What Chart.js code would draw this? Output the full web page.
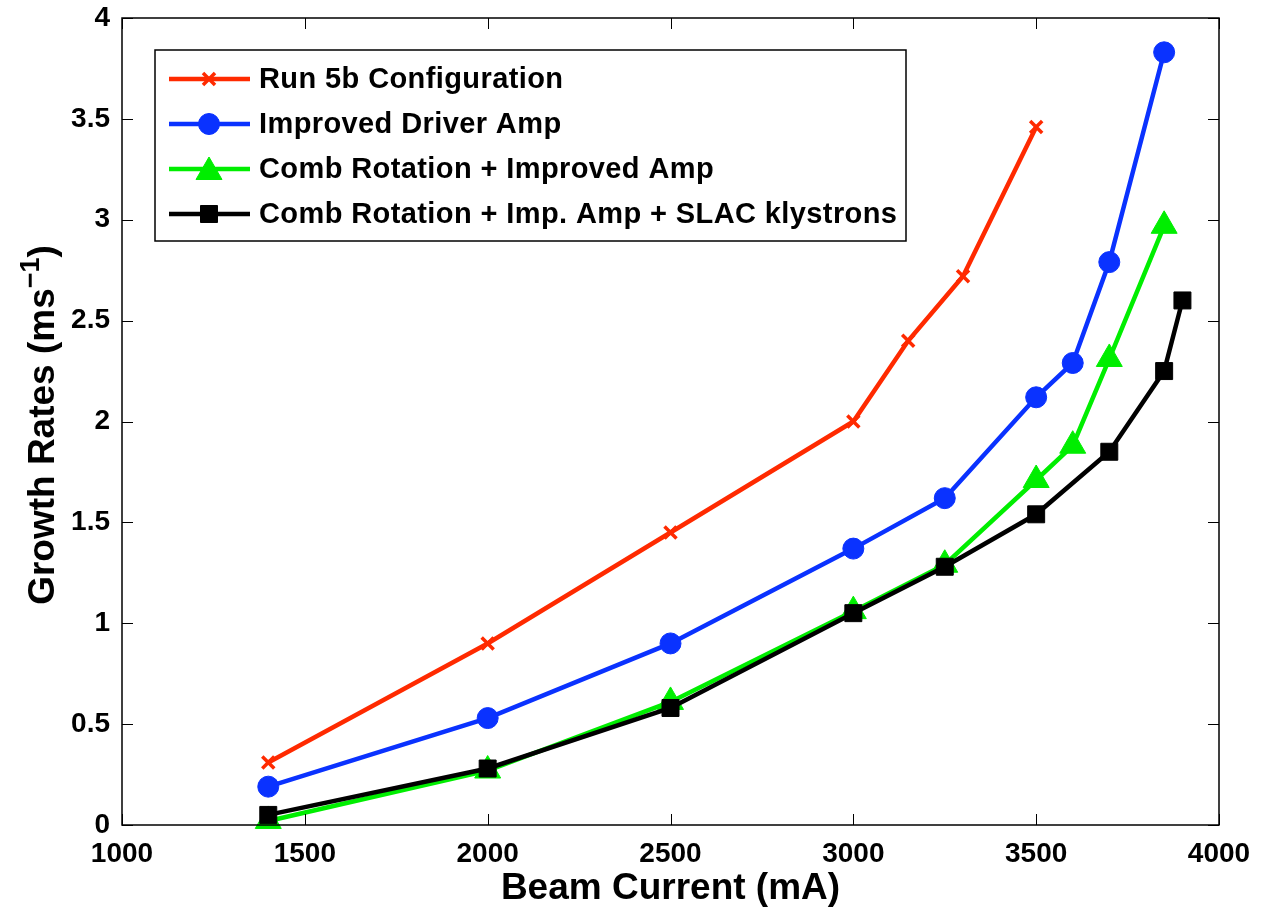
<!DOCTYPE html>
<html>
<head>
<meta charset="utf-8">
<script src="https://cdn.jsdelivr.net/npm/chart.js@4"></script>
<style>
  html, body { margin: 0; padding: 0; background: #fff; }
  #wrap { width: 1266px; height: 915px; }
</style>
</head>
<body>
<div id="wrap"><canvas id="grafico"></canvas></div>
<script>
// beam current (mA) and growth rates (1/ms) per configuration
const run5bX = [1400, 2000, 2500, 3000, 3150, 3300, 3500];
const run5bY = [0.31, 0.90, 1.45, 2.00, 2.40, 2.72, 3.46];

const driverX = [1400, 2000, 2500, 3000, 3250, 3500, 3600, 3700, 3850];
const driverY = [0.19, 0.53, 0.90, 1.37, 1.62, 2.12, 2.29, 2.79, 3.83];

const combX = [1400, 2000, 2500, 3000, 3250, 3500, 3600, 3700, 3850];
const combY = [0.02, 0.27, 0.61, 1.06, 1.29, 1.71, 1.88, 2.31, 2.97];

const slacX = [1400, 2000, 2500, 3000, 3250, 3500, 3700, 3850, 3900];
const slacY = [0.05, 0.28, 0.58, 1.05, 1.28, 1.54, 1.85, 2.25, 2.60];

const xTicks = [1000, 1500, 2000, 2500, 3000, 3500, 4000];
const yTicks = [0, 0.5, 1, 1.5, 2, 2.5, 3, 3.5, 4];

const FONTE = "'Liberation Sans', Arial, sans-serif";

function pontos(xs, ys) {
    return xs.map((x, i) => ({ x: x, y: ys[i] }));
}

// later series are drawn on top (lower order = on top)
function serie(label, xs, ys, cor, estilo, raio, ordem) {
    return {
        label: label,
        data: pontos(xs, ys),
        order: ordem,
        borderColor: cor,
        backgroundColor: cor,
        borderWidth: 4.5,
        pointStyle: estilo,
        pointRadius: raio,
        pointHoverRadius: raio,
        pointBorderColor: cor,
        pointBackgroundColor: cor,
        pointBorderWidth: estilo === 'crossRot' ? 3.5 : 1,
        tension: 0,
        clip: false
    };
}

// box with inward ticks on all four sides
const caixa = {
    id: 'caixa',
    afterDatasetsDraw(chart) {
        const ctx = chart.ctx;
        const a = chart.chartArea;
        const sx = chart.scales.x, sy = chart.scales.y;
        ctx.save();
        ctx.strokeStyle = '#000';
        ctx.lineWidth = 1.5;
        ctx.strokeRect(a.left, a.top, a.right - a.left, a.bottom - a.top);
        ctx.lineWidth = 1;
        ctx.beginPath();
        xTicks.forEach(v => {
            const p = Math.round(sx.getPixelForValue(v)) + 0.5;
            ctx.moveTo(p, a.bottom); ctx.lineTo(p, a.bottom - 11);
            ctx.moveTo(p, a.top); ctx.lineTo(p, a.top + 11);
        });
        yTicks.forEach(v => {
            const p = Math.round(sy.getPixelForValue(v)) + 0.5;
            ctx.moveTo(a.left, p); ctx.lineTo(a.left + 11, p);
            ctx.moveTo(a.right, p); ctx.lineTo(a.right - 11, p);
        });
        ctx.stroke();
        ctx.restore();
    }
};

// y axis title with a raised exponent
const tituloY = {
    id: 'tituloY',
    afterDraw(chart) {
        const ctx = chart.ctx;
        const base = 'Growth Rates (ms';
        const expoente = '\u22121';
        const fim = ')';
        ctx.save();
        ctx.fillStyle = '#000';
        ctx.textBaseline = 'alphabetic';
        ctx.textAlign = 'left';
        ctx.font = 'bold 37px ' + FONTE;
        const w1 = ctx.measureText(base).width;
        const w3 = ctx.measureText(fim).width;
        ctx.font = 'bold 27px ' + FONTE;
        const w2 = ctx.measureText(expoente).width;
        const total = w1 + w2 + w3;
        ctx.translate(54, 425);
        ctx.rotate(-Math.PI / 2);
        let x = -total / 2;
        ctx.font = 'bold 37px ' + FONTE;
        ctx.fillText(base, x, 0);
        x += w1;
        ctx.font = 'bold 27px ' + FONTE;
        ctx.fillText(expoente, x, -15);
        x += w2;
        ctx.font = 'bold 37px ' + FONTE;
        ctx.fillText(fim, x, 0);
        ctx.restore();
    }
};

// legend box in the upper left corner, line with marker in the middle
const legenda = {
    id: 'legenda',
    afterDraw(chart) {
        const ctx = chart.ctx;
        const bx = 155, by = 50, bw = 751, bh = 191;
        ctx.save();
        ctx.fillStyle = '#fff';
        ctx.fillRect(bx, by, bw, bh);
        ctx.strokeStyle = '#000';
        ctx.lineWidth = 1.5;
        ctx.strokeRect(bx, by, bw, bh);
        chart.data.datasets.forEach((ds, i) => {
            const y = 79 + i * 45;
            ctx.strokeStyle = ds.borderColor;
            ctx.lineWidth = 4.5;
            ctx.beginPath();
            ctx.moveTo(169, y);
            ctx.lineTo(250, y);
            ctx.stroke();
            ctx.fillStyle = ds.pointBackgroundColor;
            ctx.strokeStyle = ds.pointBorderColor;
            ctx.lineWidth = ds.pointBorderWidth;
            Chart.helpers.drawPoint(ctx, {
                pointStyle: ds.pointStyle,
                rotation: 0,
                radius: ds.pointRadius,
                borderWidth: ds.pointBorderWidth
            }, 209, y + (ds.pointStyle === 'triangle' ? 3 : 0));
            ctx.fillStyle = '#000';
            ctx.font = 'bold 29px ' + FONTE;
            ctx.textBaseline = 'middle';
            ctx.textAlign = 'left';
            if ('letterSpacing' in ctx) ctx.letterSpacing = '0.4px';
            ctx.fillText(ds.label, 259, y + 1);
        });
        ctx.restore();
    }
};

const ctx = document.getElementById('grafico').getContext('2d');

window.graficoCrescimento = new Chart(ctx, {
    type: 'line',
    data: {
        datasets: [
            serie('Run 5b Configuration', run5bX, run5bY, '#ff2a00', 'crossRot', 8.5, 4),
            serie('Improved Driver Amp', driverX, driverY, '#0a32ff', 'circle', 10.5, 3),
            serie('Comb Rotation + Improved Amp', combX, combY, '#00ee00', 'triangle', 15, 2),
            serie('Comb Rotation + Imp. Amp + SLAC klystrons', slacX, slacY, '#000000', 'rect', 12, 1)
        ]
    },
    options: {
        responsive: true,
        maintainAspectRatio: false,
        animation: false,
        events: [],
        layout: { padding: { left: 0, right: 47, top: 18, bottom: 0 } },
        plugins: {
            legend: { display: false },
            tooltip: { enabled: false }
        },
        scales: {
            x: {
                type: 'linear',
                min: 1000,
                max: 4000,
                afterBuildTicks: s => { s.ticks = xTicks.map(v => ({ value: v })); },
                afterFit: s => {
                    s.height = 90;
                    s.paddingLeft = 0;
                    s.paddingRight = 0;
                },
                grid: { display: false, drawTicks: false },
                border: { display: false },
                ticks: {
                    padding: 12,
                    color: '#000',
                    font: { family: FONTE, size: 28, weight: 'bold' },
                    callback: v => String(v)
                },
                title: {
                    display: true,
                    text: 'Beam Current (mA)',
                    color: '#000',
                    padding: { top: 0, bottom: 4 },
                    font: { family: FONTE, size: 37, weight: 'bold' }
                }
            },
            y: {
                min: 0,
                max: 4,
                afterBuildTicks: s => { s.ticks = yTicks.map(v => ({ value: v })); },
                afterFit: s => {
                    s.width = 122;
                    s.paddingTop = 0;
                    s.paddingBottom = 0;
                },
                grid: { display: false, drawTicks: false },
                border: { display: false },
                ticks: {
                    padding: 12,
                    color: '#000',
                    font: { family: FONTE, size: 28, weight: 'bold' },
                    callback: v => String(v)
                }
            }
        }
    },
    plugins: [caixa, tituloY, legenda]
});
</script>
</body>
</html>
